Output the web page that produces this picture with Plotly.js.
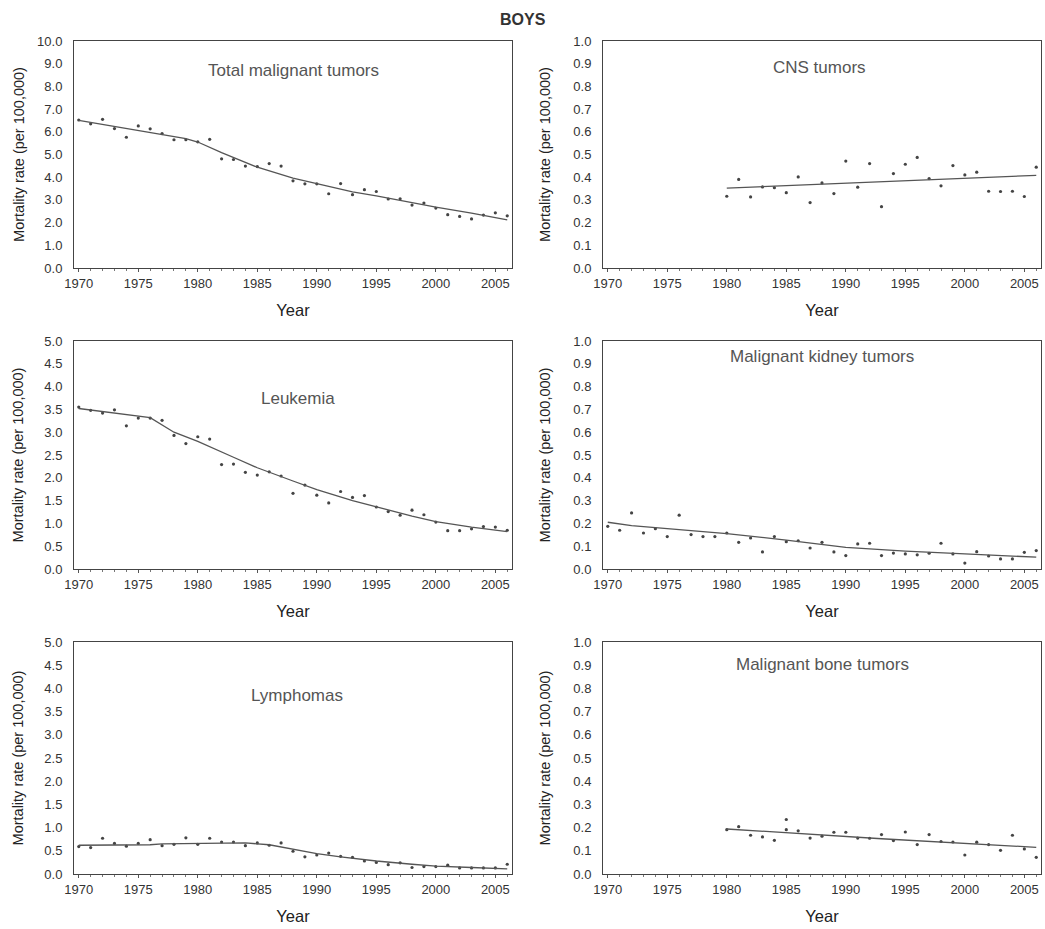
<!DOCTYPE html>
<html>
<head>
<meta charset="utf-8">
<script src="https://cdn.plot.ly/plotly-3.0.1.min.js"></script>
<style>html,body{margin:0;padding:0;background:#fff;}#chart{width:1045px;height:929px;}</style>
</head>
<body>
<div id="chart"></div>
<script>
// ---- Data ----
const years = [1970,1971,1972,1973,1974,1975,1976,1977,1978,1979,1980,1981,1982,1983,1984,1985,1986,1987,1988,1989,1990,1991,1992,1993,1994,1995,1996,1997,1998,1999,2000,2001,2002,2003,2004,2005,2006];
const yearsFrom1980 = [1980,1981,1982,1983,1984,1985,1986,1987,1988,1989,1990,1991,1992,1993,1994,1995,1996,1997,1998,1999,2000,2001,2002,2003,2004,2005,2006];
const boneYears = [1980,1981,1982,1983,1984,1985,1985,1986,1987,1988,1989,1990,1991,1992,1993,1994,1995,1996,1997,1998,1999,2000,2001,2002,2003,2004,2005,2006];

const totalRates = [6.52,6.35,6.55,6.14,5.76,6.26,6.13,5.92,5.65,5.65,5.56,5.67,4.81,4.78,4.49,4.47,4.60,4.49,3.84,3.71,3.71,3.27,3.72,3.23,3.45,3.37,3.04,3.05,2.77,2.86,2.64,2.35,2.27,2.16,2.33,2.43,2.30];
const totalTrendYears = [1970,1975,1979,1980,1982,1985,1988,1990,1993,1995,1998,2000,2003,2006];
const totalTrend = [6.50,6.05,5.70,5.55,5.08,4.44,3.96,3.72,3.35,3.18,2.88,2.68,2.42,2.12];

const cnsRates = [0.316,0.39,0.313,0.357,0.354,0.332,0.401,0.288,0.375,0.328,0.471,0.356,0.46,0.27,0.416,0.457,0.487,0.394,0.362,0.451,0.41,0.422,0.338,0.337,0.338,0.315,0.444];
const cnsTrendYears = [1980,2006];
const cnsTrend = [0.352,0.408];

const leukRates = [3.55,3.48,3.42,3.49,3.14,3.31,3.31,3.26,2.93,2.75,2.90,2.85,2.29,2.30,2.12,2.06,2.13,2.04,1.66,1.84,1.62,1.45,1.70,1.57,1.61,1.36,1.26,1.18,1.29,1.19,1.03,0.84,0.84,0.88,0.93,0.92,0.85];
const leukTrendYears = [1970,1976,1978,1980,1983,1985,1988,1990,1993,1995,1998,2000,2003,2006];
const leukTrend = [3.52,3.32,3.00,2.80,2.45,2.22,1.93,1.74,1.50,1.36,1.16,1.04,0.92,0.82];

const kidneyRates = [0.187,0.170,0.246,0.158,0.177,0.142,0.236,0.151,0.142,0.142,0.158,0.117,0.136,0.075,0.142,0.120,0.124,0.092,0.117,0.075,0.059,0.110,0.113,0.059,0.070,0.066,0.062,0.069,0.113,0.066,0.026,0.076,0.057,0.044,0.044,0.073,0.081];
const kidneyTrendYears = [1970,1972,1980,1985,1990,1995,2000,2006];
const kidneyTrend = [0.205,0.190,0.155,0.127,0.095,0.078,0.066,0.052];

const lymphRates = [0.59,0.57,0.77,0.66,0.60,0.66,0.74,0.61,0.64,0.78,0.64,0.77,0.69,0.69,0.61,0.67,0.62,0.67,0.49,0.37,0.41,0.45,0.38,0.36,0.28,0.25,0.20,0.24,0.14,0.16,0.16,0.19,0.13,0.13,0.13,0.13,0.21];
const lymphTrendYears = [1970,1976,1977,1984,1986,1988,1990,1992,1995,1998,2000,2003,2006];
const lymphTrend = [0.62,0.63,0.65,0.67,0.63,0.53,0.44,0.37,0.28,0.21,0.17,0.14,0.11];

const boneRates = [0.191,0.204,0.167,0.160,0.145,0.235,0.191,0.186,0.155,0.163,0.180,0.180,0.155,0.154,0.170,0.144,0.181,0.127,0.170,0.140,0.138,0.082,0.137,0.127,0.102,0.167,0.108,0.072];
const boneTrendYears = [1980,1993,2006];
const boneTrend = [0.194,0.152,0.115];

const panelLabels = ['Total malignant tumors','CNS tumors','Leukemia','Malignant kidney tumors','Lymphomas','Malignant bone tumors'];
const xTickVals = [1970,1975,1980,1985,1990,1995,2000,2005];

// ---- Styling ----
const FONT = 'Liberation Sans, Arial, Helvetica, sans-serif';
const W = 1045, H = 929;
const colL = [74, 512], colR = [603, 1041];
const rows = [[41, 268], [341, 569], [642, 874]];
const fx = p => [p[0] / W, p[1] / W];
const fy = r => [1 - r[1] / H, 1 - r[0] / H];

const panels = [
  {xs: years, ys: totalRates, tx: totalTrendYears, ty: totalTrend, col: colL, row: rows[0], yr: [0,10], dt: 1, lbl: [0.50, 0.872], so: 9},
  {xs: yearsFrom1980, ys: cnsRates, tx: cnsTrendYears, ty: cnsTrend, col: colR, row: rows[0], yr: [0,1], dt: 0.1, lbl: [0.495, 0.885], so: 19},
  {xs: years, ys: leukRates, tx: leukTrendYears, ty: leukTrend, col: colL, row: rows[1], yr: [0,5], dt: 0.5, lbl: [0.511, 0.75], so: 17},
  {xs: years, ys: kidneyRates, tx: kidneyTrendYears, ty: kidneyTrend, col: colR, row: rows[1], yr: [0,1], dt: 0.1, lbl: [0.50, 0.93], so: 19},
  {xs: years, ys: lymphRates, tx: lymphTrendYears, ty: lymphTrend, col: colL, row: rows[2], yr: [0,5], dt: 0.5, lbl: [0.509, 0.77], so: 17},
  {xs: boneYears, ys: boneRates, tx: boneTrendYears, ty: boneTrend, col: colR, row: rows[2], yr: [0,1], dt: 0.1, lbl: [0.50, 0.905], so: 19}
];

const traces = [];
const layout = {
  width: W, height: H,
  margin: {l: 0, r: 0, t: 0, b: 0},
  paper_bgcolor: '#ffffff', plot_bgcolor: '#ffffff',
  showlegend: false,
  font: {family: FONT, color: '#333'},
  annotations: [{
    text: '<b>BOYS</b>', xref: 'paper', yref: 'paper', x: 523 / W, y: 1 - 19 / H,
    xanchor: 'center', yanchor: 'middle', showarrow: false,
    font: {family: FONT, size: 16, color: '#333'}
  }]
};

panels.forEach((p, i) => {
  const n = i === 0 ? '' : String(i + 1);
  const xa = 'x' + n, ya = 'y' + n;
  traces.push({
    x: p.xs, y: p.ys, xaxis: xa, yaxis: ya, type: 'scatter', mode: 'markers',
    marker: {size: 3.2, color: '#444'}, hoverinfo: 'x+y'
  });
  traces.push({
    x: p.tx, y: p.ty, xaxis: xa, yaxis: ya, type: 'scatter', mode: 'lines',
    line: {color: '#555', width: 1.3}, hoverinfo: 'skip'
  });
  layout['xaxis' + n] = {
    domain: fx(p.col), anchor: ya, range: [1969.6, 2006.4],
    tickvals: xTickVals, ticktext: xTickVals.map(String),
    ticks: 'outside', ticklen: 3, tickcolor: '#555', tickwidth: 1,
    minor: {dtick: 1, ticks: 'outside', ticklen: 2, tickcolor: '#777'},
    showgrid: false, zeroline: false,
    showline: true, mirror: true, linecolor: '#444', linewidth: 1,
    tickfont: {family: FONT, size: 13, color: '#333'},
    title: {text: 'Year', font: {family: FONT, size: 16.5, color: '#222'}, standoff: 14},
    automargin: false, fixedrange: true
  };
  layout['yaxis' + n] = {
    domain: fy(p.row), anchor: xa, range: p.yr,
    dtick: p.dt, tick0: 0, tickformat: '.1f',
    ticks: '', ticklabelstandoff: 8,
    showgrid: false, zeroline: false,
    showline: true, mirror: true, linecolor: '#444', linewidth: 1,
    tickfont: {family: FONT, size: 13, color: '#333'},
    title: {text: 'Mortality rate (per 100,000)', font: {family: FONT, size: 14.5, color: '#222'}, standoff: p.so},
    automargin: false, fixedrange: true
  };
  layout.annotations.push({
    text: panelLabels[i], xref: xa + ' domain', yref: ya + ' domain',
    x: p.lbl[0], y: p.lbl[1], xanchor: 'center', yanchor: 'middle', showarrow: false,
    font: {family: FONT, size: 17, color: '#555'}
  });
});

Plotly.newPlot('chart', traces, layout, {displayModeBar: false, staticPlot: true});
</script>
</body>
</html>
